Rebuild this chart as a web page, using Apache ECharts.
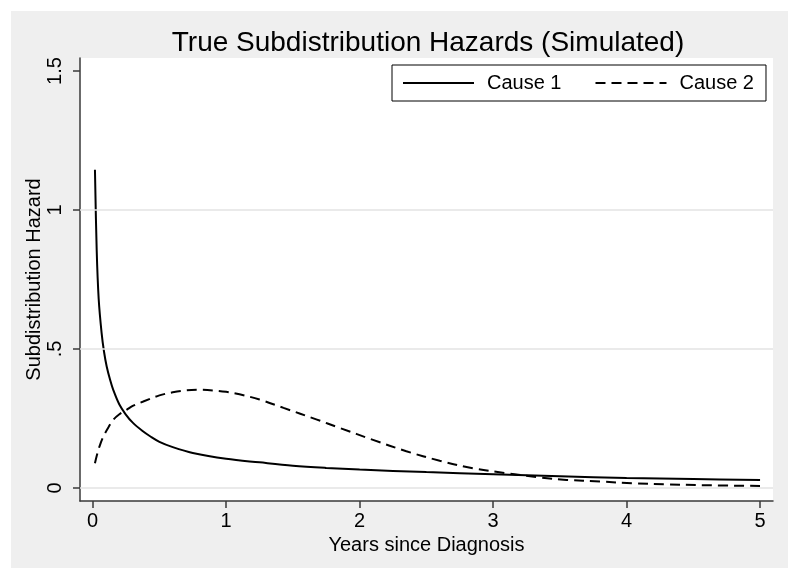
<!DOCTYPE html>
<html>
<head>
<meta charset="utf-8">
<script src="https://cdn.jsdelivr.net/npm/echarts@6/dist/echarts.min.js"></script>
<style>html,body{margin:0;padding:0;background:#fff}#c{width:800px;height:579px}</style>
</head>
<body>
<div id="c"></div>
<script>
// Data
const cause1Years = [0.017,0.03,0.045,0.067,0.085,0.105,0.13,0.154,0.2,0.247,0.3,0.379,0.43,0.5,0.6,0.75,1.0,1.25,1.5,1.75,2.0,2.5,3.0,3.5,4.0,4.5,5.0];
const cause1Hazard = [1.145,0.857,0.68,0.557,0.49,0.437,0.39,0.353,0.30,0.265,0.235,0.203,0.186,0.166,0.147,0.126,0.105,0.092,0.080,0.072,0.066,0.057,0.049,0.042,0.036,0.032,0.029];
const cause2Years = [0.017,0.03,0.05,0.08,0.12,0.154,0.2,0.254,0.3,0.379,0.5,0.6,0.7,0.8,0.9,1.0,1.1,1.25,1.43,1.68,1.85,2.1,2.35,2.6,2.85,3.1,3.35,3.55,3.8,4.05,4.3,4.55,5.0];
const cause2Hazard = [0.089,0.115,0.148,0.185,0.22,0.245,0.265,0.281,0.295,0.311,0.333,0.344,0.351,0.353,0.351,0.346,0.337,0.318,0.288,0.246,0.216,0.173,0.132,0.098,0.071,0.053,0.038,0.029,0.023,0.017,0.013,0.010,0.007];
const xTicks = [0,1,2,3,4,5];
const yTicks = [0,0.5,1,1.5];
const yGrid = [0,0.5,1];
const seriesNames = ['Cause 1','Cause 2'];

const font = 'Arial, "Liberation Sans", sans-serif';
const chart = echarts.init(document.getElementById('c'));
const zip = (a,b) => a.map((v,i)=>[v,b[i]]);
chart.setOption({
  backgroundColor: '#ffffff',
  animation: false,
  graphic: [{type:'rect', z:-10, shape:{x:11,y:11,width:777,height:557}, style:{fill:'#efefef'}, silent:true}],
  title: {text:'True Subdistribution Hazards (Simulated)', left:423, textAlign:'center', top:24,
    textStyle:{fontFamily:font, fontSize:28, fontWeight:'normal', color:'#000'}},
  legend: {data: seriesNames, left:392, top:65, orient:'horizontal',
    itemWidth:71, itemHeight:20, itemGap:33,
    padding:[8,12,8,10], borderColor:'#000', borderWidth:1, backgroundColor:'#fff',
    itemStyle:{opacity:0},
    textStyle:{fontFamily:font, fontSize:20, color:'#000', padding:[0,0,0,8]}},
  grid: {left:80, top:58, right:27, bottom:78, show:true, backgroundColor:'#fff', borderWidth:0},
  xAxis: {type:'value', min:-0.095, max:5.097, name:'Years since Diagnosis', nameLocation:'middle', nameGap:34,
    nameTextStyle:{fontFamily:font, fontSize:20, color:'#000'},
    axisLine:{show:true, onZero:false, lineStyle:{color:'#3a3a3a', width:1.5}},
    axisTick:{show:true, length:7, customValues:xTicks, lineStyle:{color:'#3a3a3a', width:1.5}},
    axisLabel:{customValues:xTicks, margin:10, fontFamily:font, fontSize:20, color:'#000'},
    splitLine:{show:false}},
  yAxis: {type:'value', min:-0.047, max:1.547, name:'Subdistribution Hazard', nameLocation:'middle', nameGap:36,
    nameMoveOverlap:false,
    nameTextStyle:{fontFamily:font, fontSize:20, color:'#000'},
    axisLine:{show:true, onZero:false, lineStyle:{color:'#3a3a3a', width:1.5}},
    axisTick:{show:true, length:7, customValues:yTicks, lineStyle:{color:'#3a3a3a', width:1.5}},
    axisLabel:{customValues:yTicks, rotate:90, margin:15, fontFamily:font, fontSize:20, color:'#000',
      formatter: v => (v===0.5 ? '.5' : String(v))},
    splitLine:{show:false}},
  series: [
    {name:seriesNames[0], type:'line', data:zip(cause1Years,cause1Hazard), showSymbol:false, symbol:'none',
     smooth:0.35, lineStyle:{color:'#000', width:2, type:'solid'}, itemStyle:{color:'#000'},
     z:3,
     markLine:{silent:true, symbol:'none', label:{show:false}, animation:false,
       lineStyle:{color:'#e3e3e3', width:1.5, type:'solid'},
       data: yGrid.map(v=>({yAxis:v}))}},
    {name:seriesNames[1], type:'line', data:zip(cause2Years,cause2Hazard), showSymbol:false, symbol:'none',
     smooth:0.35, lineStyle:{color:'#000', width:2, type:[10,6]}, itemStyle:{color:'#000'}, z:3}
  ]
});
</script>
</body>
</html>
